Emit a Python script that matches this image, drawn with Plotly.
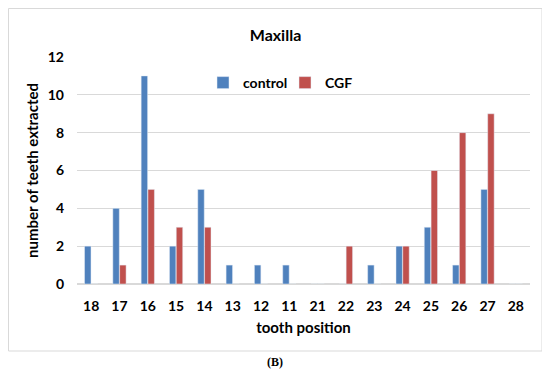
import plotly.graph_objects as go

teeth = ["18", "17", "16", "15", "14", "13", "12", "11",
         "21", "22", "23", "24", "25", "26", "27", "28"]
control = [2, 4, 11, 2, 5, 1, 1, 1, 0, 0, 1, 2, 3, 1, 5, 0]
cgf = [0, 1, 5, 3, 3, 0, 0, 0, 0, 2, 0, 2, 6, 8, 9, 0]
y_ticks = [0, 2, 4, 6, 8, 10, 12]

OFF = 8  # page body margin
W, H = 550 - OFF, 372 - OFF
L, R, T, B = 77 - OFF, 20, 57 - OFF, 88
pw, ph = W - L - R, H - T - B

def px(x):  # page x -> paper fraction
    return (x - OFF - L) / pw

def py(y):  # page y -> paper fraction
    return (H - B - (y - OFF)) / ph

fig = go.Figure()
fig.add_trace(go.Bar(name="control", x=teeth, y=control, marker_color="#4F81BD"))
fig.add_trace(go.Bar(name="CGF", x=teeth, y=cgf, marker_color="#C0504D"))

font_main = "Lato, 'Open Sans', sans-serif"
bold = dict(family=font_main, color="#000000", weight="bold")

fig.update_layout(
    width=W, height=H,
    margin=dict(l=L, r=R, t=T, b=B),
    paper_bgcolor="white", plot_bgcolor="white",
    barmode="group", bargap=0.52, bargroupgap=0.05,
    font=dict(family=font_main, color="#000000"),
    title=dict(text="Maxilla", x=(275.5 - OFF) / W, xanchor="center",
               y=1 - (35 - OFF) / H, yanchor="middle", font=dict(size=16, **bold)),
    legend=dict(orientation="h", x=px(203), xanchor="left", y=py(83), yanchor="middle",
                font=dict(size=14, **bold), itemwidth=30, entrywidth=37,
                bgcolor="rgba(0,0,0,0)", tracegroupgap=0),
    xaxis=dict(type="category", range=[-0.5, 15.5], showgrid=False, showline=False,
               ticks="", tickfont=dict(size=14, **bold), ticklabelstandoff=12,
               title=dict(text="tooth position", font=dict(size=15, **bold), standoff=9)),
    yaxis=dict(range=[0, 12], tickvals=y_ticks, showgrid=True, gridcolor="#D9D9D9",
               gridwidth=1, zeroline=True, zerolinecolor="#D9D9D9", showline=False,
               ticks="", tickfont=dict(size=14, **bold), ticklabelstandoff=12,
               title=dict(text="number of teeth extracted",
                          font=dict(size=15, **bold), standoff=5)),
)

fig.add_shape(type="rect", xref="paper", yref="paper",
              x0=px(8.5), x1=px(542), y0=py(351), y1=py(8.5),
              line=dict(color="#D9D9D9", width=1), fillcolor="rgba(0,0,0,0)", layer="below")

fig.add_annotation(text="(B)", xref="paper", yref="paper",
                   x=px(275), y=py(362), xanchor="center", yanchor="middle",
                   showarrow=False,
                   font=dict(family="'Liberation Serif', serif", size=12, color="#000000", weight="bold"))

fig.write_html("out.html")
